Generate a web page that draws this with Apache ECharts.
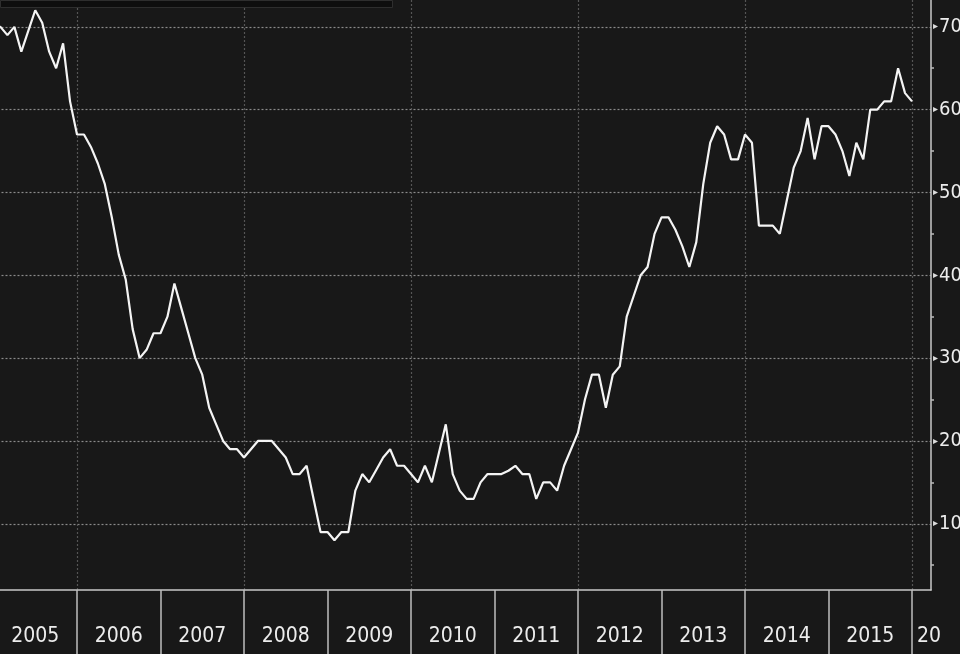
<!DOCTYPE html>
<html>
<head>
<meta charset="utf-8">
<script src="https://cdn.jsdelivr.net/npm/echarts@6/dist/echarts.min.js"></script>
<style>
html,body{margin:0;padding:0;background:#181818;}
#chart{width:960px;height:654px;}
</style>
</head>
<body>
<div id="chart"></div>
<script>
// Year tick labels (one per year, centred in each year band)
const years = ['2005','2006','2007','2008','2009','2010','2011','2012','2013','2014','2015'];
const partialYearLabel = '20';
// Monthly values from Jan 2005 (index 0) to Jan 2016 (index 132)
const values2005 = [70, 70, 69, 70, 67, 69.5, 72, 70.5, 67, 65, 68, 61];
const values2006 = [57, 57, 55.5, 53.5, 51, 47, 42.5, 39.5, 33.5, 30, 31, 33];
const values2007 = [33, 35, 39, 36, 33, 30, 28, 24, 22, 20, 19, 19];
const values2008 = [18, 19, 20, 20, 20, 19, 18, 16, 16, 17, 13, 9];
const values2009 = [9, 8, 9, 9, 14, 16, 15, 16.5, 18, 19, 17, 17];
const values2010 = [16, 15, 17, 15, 18.5, 22, 16, 14, 13, 13, 15, 16];
const values2011 = [16, 16, 16.4, 17, 16, 16, 13, 15, 15, 14, 17, 19];
const values2012 = [21, 25, 28, 28, 24, 28, 29, 35, 37.5, 40, 41, 45];
const values2013 = [47, 47, 45.5, 43.5, 41, 44, 51, 56, 58, 57, 54, 54];
const values2014 = [57, 56, 46, 46, 46, 45, 49, 53, 55, 59, 54, 58];
const values2015 = [58, 57, 55, 52, 56, 54, 60, 60, 61, 61, 65, 62];
const values2016 = [61];

const values = [].concat(values2005, values2006, values2007, values2008, values2009,
  values2010, values2011, values2012, values2013, values2014, values2015, values2016);
const seriesData = values.map((v, i) => [i, v]);

const FONT = "'DejaVu Sans Condensed', 'Liberation Sans Narrow', sans-serif";
const lastIndex = values.length - 1;     // 132 = Jan 2016
const axisEnd = 134.7;                   // right edge of the plot, in months

const chart = echarts.init(document.getElementById('chart'), null, {renderer: 'canvas'});
const gridBase = {containLabel: false, outerBoundsMode: 'none'};
chart.setOption({
  backgroundColor: '#181818',
  animation: false,
  grid: [
    Object.assign({left: -6.5, right: 29, top: 0, bottom: 47.4}, gridBase),
    Object.assign({left: -6.5, right: 29, top: 0, bottom: 64}, gridBase),
    Object.assign({left: -6.5, right: 48, top: 0, bottom: 64}, gridBase)
  ],
  xAxis: [
    {gridIndex: 0, type: 'value', position: 'bottom', min: 0, max: axisEnd, show: false},
    {gridIndex: 1, type: 'value', position: 'bottom', min: 0, max: axisEnd,
      axisLine: {show: true, onZero: false, lineStyle: {color: '#c8c8c8', width: 1.5}},
      axisTick: {show: false}, axisLabel: {show: false}, splitLine: {show: false}},
    {gridIndex: 2, type: 'value', position: 'bottom', min: 0, max: lastIndex, interval: 12,
      axisLine: {show: false, onZero: false},
      axisTick: {show: true, inside: false, length: 64, lineStyle: {color: '#bdbdbd', width: 1.5}},
      axisLabel: {show: false},
      splitLine: {show: true, lineStyle: {color: ['rgba(0,0,0,0)', '#555555'], type: [2, 2], width: 1.2}}},
    {gridIndex: 2, type: 'value', position: 'bottom', min: 0, max: lastIndex, interval: 6,
      axisLine: {show: false, onZero: false}, axisTick: {show: false}, splitLine: {show: false},
      axisLabel: {show: true, margin: 36, color: '#ececec', fontSize: 21, fontFamily: FONT,
        showMinLabel: true, showMaxLabel: true,
        formatter: v => (Math.round(v) % 12 === 6) ? years[(Math.round(v) - 6) / 12] : ''}}
  ],
  yAxis: [
    {gridIndex: 0, type: 'value', position: 'right', min: 0, max: 73.24, interval: 10,
      axisLine: {show: false, onZero: false}, axisTick: {show: false},
      minorTick: {show: true, splitNumber: 2, length: 3, lineStyle: {color: '#bbbbbb', width: 1.5}},
      splitLine: {show: true, showMinLine: false, showMaxLine: false,
        lineStyle: {color: '#8a8a8a', type: [2, 2], width: 1.2}},
      axisLabel: {show: true, margin: 2, showMinLabel: false, showMaxLabel: false,
        formatter: v => '{t|▸}{n|' + v + '}',
        rich: {
          t: {fontSize: 10, color: '#dddddd', fontFamily: 'DejaVu Sans', padding: [0, 1, 0, 0]},
          n: {fontSize: 20, color: '#ececec', fontFamily: FONT}
        }}},
    {gridIndex: 1, type: 'value', position: 'right', min: 2, max: 73.24,
      axisLine: {show: true, onZero: false, lineStyle: {color: '#c8c8c8', width: 1.5}},
      axisTick: {show: false}, axisLabel: {show: false}, splitLine: {show: false}},
    {gridIndex: 2, type: 'value', position: 'right', min: 2, max: 73.24, show: false,
      axisLine: {onZero: false}}
  ],
  series: [{
    type: 'line',
    xAxisIndex: 2,
    yAxisIndex: 2,
    data: seriesData,
    showSymbol: false,
    symbol: 'none',
    smooth: false,
    clip: false,
    lineStyle: {color: '#f4f4f4', width: 2.2},
    z: 5
  }],
  graphic: [
    {type: 'rect', left: 0, top: 0, z: 10,
      shape: {x: 0, y: 0, width: 392, height: 7},
      style: {fill: '#0e0e0e', stroke: '#2e2e2e', lineWidth: 1}},
    {type: 'text', left: 917, top: 626, z: 10,
      style: {text: partialYearLabel, fill: '#ececec', fontSize: 21, fontFamily: FONT}}
  ]
});
</script>
</body>
</html>
